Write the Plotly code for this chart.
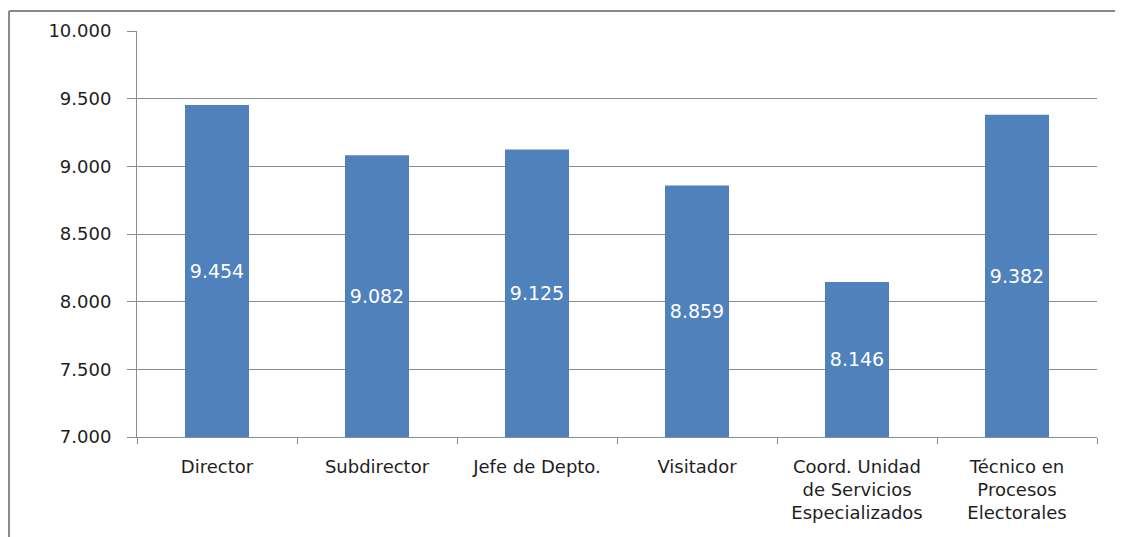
import plotly.graph_objects as go

categorias = [
    "Director",
    "Subdirector",
    "Jefe de Depto.",
    "Visitador",
    "Coord. Unidad<br>de Servicios<br>Especializados",
    "Técnico en<br>Procesos<br>Electorales",
]
valores = [9.454, 9.082, 9.125, 8.859, 8.146, 9.382]
etiquetas = ["9.454", "9.082", "9.125", "8.859", "8.146", "9.382"]
ticks_y = [7.0, 7.5, 8.0, 8.5, 9.0, 9.5, 10.0]
ticks_y_txt = ["7.000", "7.500", "8.000", "8.500", "9.000", "9.500", "10.000"]

base_eje = 7.0
gris = "#8c8c8c"
fuente = "DejaVu Sans"

# barras empiezan en 7 (eje no parte de cero), asi el texto queda centrado en la parte visible
fig = go.Figure(go.Bar(
    x=categorias, y=[v - base_eje for v in valores], base=base_eje, text=etiquetas,
    marker=dict(color="#4f81bd", line=dict(width=0)),
    width=0.4,
    textposition="inside", insidetextanchor="middle",
    textfont=dict(family=fuente, size=19, color="white"),
    textangle=0,
))

# la pagina tiene 8px de margen en el body, se compensa aqui
fig.update_layout(
    width=1123, height=537,
    margin=dict(l=129, r=34, t=20, b=108),
    paper_bgcolor="white", plot_bgcolor="white",
    showlegend=False,
    font=dict(family=fuente, size=18, color="#1e1e1e"),
    xaxis=dict(
        showline=True, linecolor=gris, linewidth=1,
        ticks="outside", tickson="boundaries", ticklen=6, tickcolor=gris,
        tickfont=dict(size=18, color="#1e1e1e"),
        ticklabelstandoff=13,
        showgrid=False,
    ),
    yaxis=dict(
        range=[7, 10], tickvals=ticks_y, ticktext=ticks_y_txt,
        showline=True, linecolor=gris, linewidth=1,
        ticks="outside", ticklen=9, tickcolor=gris,
        showgrid=True, gridcolor=gris, gridwidth=1,
        tickfont=dict(size=18, color="#1e1e1e"),
        ticklabelstandoff=12,
        zeroline=False,
    ),
    shapes=[
        dict(type="line", xref="paper", yref="paper", x0=-0.1333, x1=-0.1333, y0=1.049, y1=-0.4,
             line=dict(color="#888", width=2)),
        dict(type="line", xref="paper", yref="paper", x0=-0.1333, x1=1.1, y0=1.049, y1=1.049,
             line=dict(color="#888", width=2)),
    ],
)

fig.write_html("out.html")
